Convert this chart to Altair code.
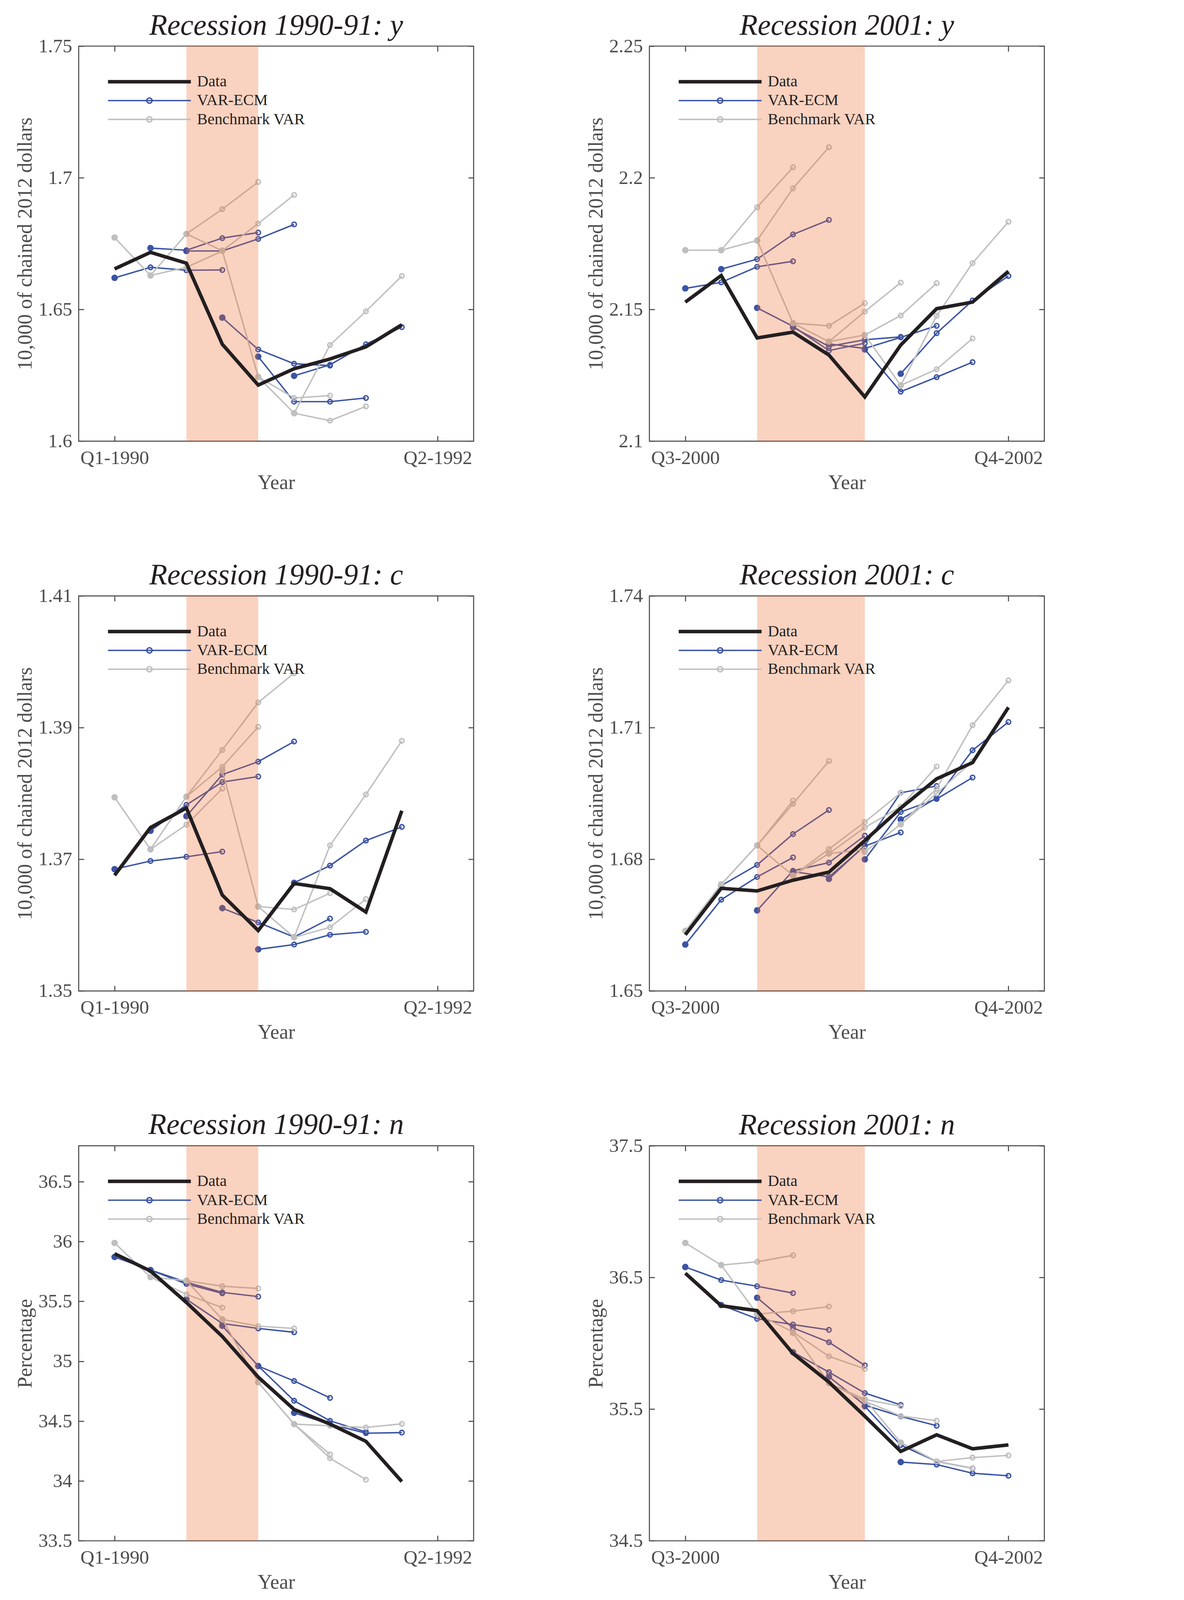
import altair as alt
import pandas as pd

FONT = "Liberation Serif"
INK = "#231F20"
AXIS_INK = "#4D4D4D"
C_DATA, C_ECM, C_VAR = "#231F20", "#3A53A4", "#BFBFBF"
C_SHADE = "#EE6A30"
MODELS = ["Data", "VAR-ECM", "Benchmark VAR"]
XTICKS = [0, 9]

# ---------------- Recession 1990-91 ----------------
x90_labels = ["Q1-1990", "Q2-1992"]
shade90 = [2, 4]

y90_data = [1.6654, 1.6717, 1.6676, 1.6368, 1.6213, 1.6275, 1.6312, 1.6358, 1.6442]
y90_ecm = [
    [1.6620, 1.6660, 1.6649, 1.6650],
    [1.6733, 1.6725, 1.6771, 1.6792],
    [1.6722, 1.6722, 1.6768, 1.6823],
    [1.6469, 1.6348, 1.6294, 1.6287],
    [1.6321, 1.6150, 1.6150, 1.6164],
    [1.6248, 1.6290, 1.6368, 1.6433],
]
y90_var = [
    [1.6773, 1.6629, 1.6660, 1.6722],
    [1.6629, 1.6787, 1.6881, 1.6984],
    [1.6787, 1.6723, 1.6826, 1.6935],
    [1.6723, 1.6244, 1.6164, 1.6173],
    [1.6244, 1.6106, 1.6078, 1.6132],
    [1.6106, 1.6365, 1.6493, 1.6627],
]
y90_ticks = [1.6, 1.65, 1.7, 1.75]

c90_data = [1.36757, 1.37482, 1.37778, 1.36456, 1.35918, 1.36633, 1.36554, 1.36199, 1.37738]
c90_ecm = [
    [1.36850, 1.36974, 1.37038, 1.37117],
    [1.37433, 1.37827, 1.38173, 1.38257],
    [1.37655, 1.38286, 1.38483, 1.38789],
    [1.36258, 1.36041, 1.35819, 1.36100],
    [1.35632, 1.35706, 1.35854, 1.35898],
    [1.36643, 1.36905, 1.37285, 1.37492],
]
c90_var = [
    [1.37941, 1.37151, 1.37526, 1.38074],
    [1.37151, 1.37951, 1.38405, 1.39011],
    [1.37951, 1.38661, 1.39382, 1.39826],
    [1.38355, 1.36283, 1.36238, 1.36485],
    [1.36283, 1.35814, 1.35967, 1.36396],
    [1.35814, 1.37211, 1.37985, 1.38799],
]
c90_ticks = [1.35, 1.37, 1.39, 1.41]

n90_data = [35.898, 35.754, 35.491, 35.207, 34.868, 34.597, 34.475, 34.331, 33.995]
n90_ecm = [
    [35.871, 35.762, 35.646, 35.567],
    [35.762, 35.660, 35.575, 35.540],
    [35.518, 35.315, 35.274, 35.242],
    [35.296, 34.960, 34.835, 34.694],
    [34.960, 34.670, 34.502, 34.410],
    [34.569, 34.475, 34.399, 34.404],
]
n90_var = [
    [35.988, 35.703, 35.559, 35.448],
    [35.703, 35.673, 35.627, 35.608],
    [35.673, 35.350, 35.293, 35.274],
    [35.350, 34.824, 34.475, 34.222],
    [34.824, 34.475, 34.190, 34.011],
    [34.475, 34.461, 34.447, 34.477],
]
n90_ticks = [33.5, 34, 34.5, 35, 35.5, 36, 36.5]

# ---------------- Recession 2001 ----------------
x01_labels = ["Q3-2000", "Q4-2002"]
shade01 = [2, 5]

y01_data = [2.1528, 2.1629, 2.1392, 2.1414, 2.1327, 2.1168, 2.1365, 2.1503, 2.1528, 2.1645]
y01_ecm = [
    [2.1580, 2.1603, 2.1662, 2.1683],
    [2.1653, 2.1691, 2.1785, 2.1840],
    [2.1506, 2.1436, 2.1344, 2.1372],
    [2.1432, 2.1360, 2.1385, 2.1396],
    [2.1369, 2.1352, 2.1394, 2.1438],
    [2.1348, 2.1188, 2.1243, 2.1300],
    [2.1256, 2.1410, 2.1534, 2.1627],
]
y01_var = [
    [2.1725, 2.1725, 2.1888, 2.2040],
    [2.1725, 2.1762, 2.1960, 2.2116],
    [2.1762, 2.1448, 2.1438, 2.1524],
    [2.1448, 2.1378, 2.1492, 2.1602],
    [2.1378, 2.1403, 2.1477, 2.1600],
    [2.1403, 2.1212, 2.1273, 2.1390],
    [2.1212, 2.1476, 2.1676, 2.1833],
]
y01_ticks = [2.1, 2.15, 2.2, 2.25]

c01_data = [1.66280, 1.67339, 1.67280, 1.67524, 1.67709, 1.68427, 1.69167, 1.69833, 1.70203, 1.71461]
c01_ecm = [
    [1.66058, 1.67080, 1.67598, 1.68042],
    [1.67400, 1.67872, 1.68575, 1.69123],
    [1.66836, 1.67739, 1.67924, 1.68538],
    [1.67720, 1.67600, 1.68300, 1.68612],
    [1.67553, 1.68316, 1.69515, 1.69670],
    [1.67998, 1.69078, 1.69374, 1.69863],
    [1.68908, 1.69400, 1.70484, 1.71128],
]
c01_var = [
    [1.66369, 1.67428, 1.68316, 1.69337],
    [1.67428, 1.68316, 1.69263, 1.70240],
    [1.68316, 1.67628, 1.68131, 1.68222],
    [1.67628, 1.68234, 1.68849, 1.69515],
    [1.68131, 1.68723, 1.69200, 1.70114],
    [1.68168, 1.68797, 1.69500, 1.70233],
    [1.68797, 1.69611, 1.71054, 1.72076],
]
c01_ticks = [1.65, 1.68, 1.71, 1.74]

n01_data = [36.532, 36.285, 36.248, 35.922, 35.705, 35.446, 35.179, 35.305, 35.199, 35.228]
n01_ecm = [
    [36.579, 36.480, 36.433, 36.381],
    [36.290, 36.186, 36.142, 36.102],
    [36.346, 36.117, 36.008, 35.832],
    [35.932, 35.781, 35.622, 35.532],
    [35.746, 35.530, 35.445, 35.374],
    [35.522, 35.227, 35.103, 35.051],
    [35.098, 35.079, 35.013, 34.994],
]
n01_var = [
    [36.762, 36.594, 36.619, 36.668],
    [36.594, 36.222, 36.244, 36.279],
    [36.222, 36.085, 35.901, 35.806],
    [36.079, 35.698, 35.574, 35.522],
    [35.698, 35.560, 35.448, 35.412],
    [35.574, 35.246, 35.103, 35.051],
    [35.246, 35.103, 35.132, 35.149],
]
n01_ticks = [34.5, 35.5, 36.5, 37.5]

DOLLARS = "10,000 of chained 2012 dollars"

# ---------------- styling (all sizes in page px) ----------------
S = 0.899  # page px per reference px


def px(v):
    return round(v * S, 2)


W = H = px(1125)
TICK = px(15)
PATH_DATA = "M-11.8,0H11.8"
PATH_FC = "M-11.8,0H11.8M0.75,0A0.75,0.75,0,1,1,-0.75,0A0.75,0.75,0,1,1,0.75,0"

AXS = dict(labelFont=FONT, labelFontSize=px(55), labelColor=AXIS_INK, labelLimit=0,
           titleFont=FONT, titleFontSize=px(58), titleFontWeight="normal",
           titleColor=AXIS_INK, grid=False, domain=False, labelFlush=False)


def make_df(data, ecm, var):
    rows = []
    for i, v in enumerate(data):
        rows.append(dict(model="Data", fid="data", t=i, v=v, origin=False))
    for name, fc in (("VAR-ECM", ecm), ("Benchmark VAR", var)):
        for k, f in enumerate(fc):
            for j, v in enumerate(f):
                rows.append(dict(model=name, fid=f"{name}-{k}", t=k + j, v=v, origin=(j == 0)))
    return pd.DataFrame(rows)


def legend():
    return alt.Legend(title=None, orient="none", legendX=px(179), legendY=px(79), padding=0,
                      labelFont=FONT, labelFontSize=px(45), labelColor=INK,
                      labelOffset=px(113), labelLimit=0, symbolSize=round((20 * S) ** 2, 1),
                      symbolOpacity=1, rowPadding=px(8), labelBaseline="middle")


def tick_axis(orient, values):
    return alt.Axis(orient=orient, values=values, labels=False, title=None, ticks=True,
                    tickSize=TICK, tickWidth=px(3), tickColor=AXIS_INK, offset=-TICK,
                    domain=False, grid=False)


def panel(title, data, ecm, var, ydom, yticks, ytitle, xlabels, shade):
    df = make_df(data, ecm, var)
    xs = alt.Scale(domain=[-1, 10], nice=False, zero=False)
    ys = alt.Scale(domain=ydom, nice=False, zero=False)
    cs = alt.Scale(domain=MODELS, range=[C_DATA, C_ECM, C_VAR])
    ws = alt.Scale(type="ordinal", domain=MODELS, range=[px(10), px(4), px(4)])
    shp = alt.Scale(domain=MODELS, range=[PATH_DATA, PATH_FC, PATH_FC])
    leg = legend()
    expr = f"datum.value == {XTICKS[0]} ? '{xlabels[0]}' : '{xlabels[1]}'"
    ax_x = alt.Axis(values=XTICKS, labelExpr=expr, title="Year", ticks=False, tickSize=0,
                    labelPadding=px(21), titlePadding=px(15), **AXS)
    ax_y = alt.Axis(values=yticks, format=".4~g", title=ytitle, ticks=False, tickSize=0,
                    labelPadding=px(19), titlePadding=px(7), **AXS)

    def X(ax):
        return alt.X("t:Q", scale=xs, axis=ax)

    def Y(ax):
        return alt.Y("v:Q", scale=ys, axis=ax)

    def line_enc(ax_x_, ax_y_):
        return dict(x=X(ax_x_), y=Y(ax_y_),
                    color=alt.Color("model:N", scale=cs, legend=leg),
                    strokeWidth=alt.StrokeWidth("model:N", scale=ws, legend=leg),
                    detail="fid:N")

    base = alt.Chart(df)
    layers = []
    axes_sets = {
        "VAR-ECM": [(ax_x, ax_y), (tick_axis("bottom", XTICKS), tick_axis("left", yticks)),
                    (tick_axis("top", XTICKS), tick_axis("right", yticks))],
        "Benchmark VAR": [(None, None)] * 3,
    }
    for model, col in (("VAR-ECM", C_ECM), ("Benchmark VAR", C_VAR)):
        sub = base.transform_filter(alt.datum.model == model)
        (a1x, a1y), (a2x, a2y), (a3x, a3y) = axes_sets[model]
        layers.append(sub.mark_line().encode(**line_enc(a1x, a1y)))
        layers.append(sub.transform_filter("!datum.origin").mark_point(
            filled=False, size=round(165 * S * S, 1), strokeWidth=px(4), color=col,
            opacity=1).encode(x=X(a2x), y=Y(a2y)))
        layers.append(sub.transform_filter("datum.origin").mark_circle(
            size=round(340 * S * S, 1), color=col, opacity=1).encode(x=X(a3x), y=Y(a3y)))
    sh = pd.DataFrame({"a": [shade[0]], "b": [shade[1]]})
    layers.append(alt.Chart(sh).mark_rect(color=C_SHADE, opacity=0.3).encode(
        x=alt.X("a:Q", scale=xs, axis=None), x2="b:Q"))
    layers.append(base.transform_filter(alt.datum.model == "Data").mark_line().encode(
        **line_enc(None, None)))
    # legend-only layer (no rows drawn) giving each legend entry its own symbol
    layers.append(base.transform_filter("false").mark_point(
        filled=False, size=round((20 * S) ** 2, 1), opacity=1).encode(
        x=X(None), y=Y(None),
        color=alt.Color("model:N", scale=cs, legend=leg),
        shape=alt.Shape("model:N", scale=shp, legend=leg),
        strokeWidth=alt.StrokeWidth("model:N", scale=ws, legend=leg)))
    top_label = abs(yticks[-1] - ydom[1]) < 1e-9
    return alt.layer(*layers).properties(
        width=W, height=H,
        title=alt.TitleParams(text=title, font=FONT, fontSize=px(84), fontStyle="italic",
                              fontWeight="normal", color=INK, anchor="middle",
                              frame="group", offset=px(-79) if top_label else px(-52),
                              baseline="alphabetic"),
    ).resolve_axis(x="independent", y="independent")


panels = [
    panel("Recession 1990-91: y", y90_data, y90_ecm, y90_var, [1.6, 1.75], y90_ticks,
          DOLLARS, x90_labels, shade90),
    panel("Recession 2001: y", y01_data, y01_ecm, y01_var, [2.1, 2.25], y01_ticks,
          DOLLARS, x01_labels, shade01),
    panel("Recession 1990-91: c", c90_data, c90_ecm, c90_var, [1.35, 1.41], c90_ticks,
          DOLLARS, x90_labels, shade90),
    panel("Recession 2001: c", c01_data, c01_ecm, c01_var, [1.65, 1.74], c01_ticks,
          "10,000 of chained  2012 dollars", x01_labels, shade01),
    panel("Recession 1990-91: n", n90_data, n90_ecm, n90_var, [33.5, 36.8], n90_ticks,
          "Percentage", x90_labels, shade90),
    panel("Recession 2001: n", n01_data, n01_ecm, n01_var, [34.5, 37.5], n01_ticks,
          "Percentage", x01_labels, shade01),
]

chart = alt.concat(*panels, columns=2, spacing={"row": px(440), "column": px(500)},
                   bounds="flush").resolve_scale(
    color="independent", strokeWidth="independent", shape="independent",
    x="independent", y="independent",
).configure_view(stroke=AXIS_INK, strokeWidth=px(3)).properties(
    padding={"left": 28.5, "top": 19, "right": 5, "bottom": 5}, background="white")

chart.save("out.html", embed_options={"renderer": "svg", "actions": False})
